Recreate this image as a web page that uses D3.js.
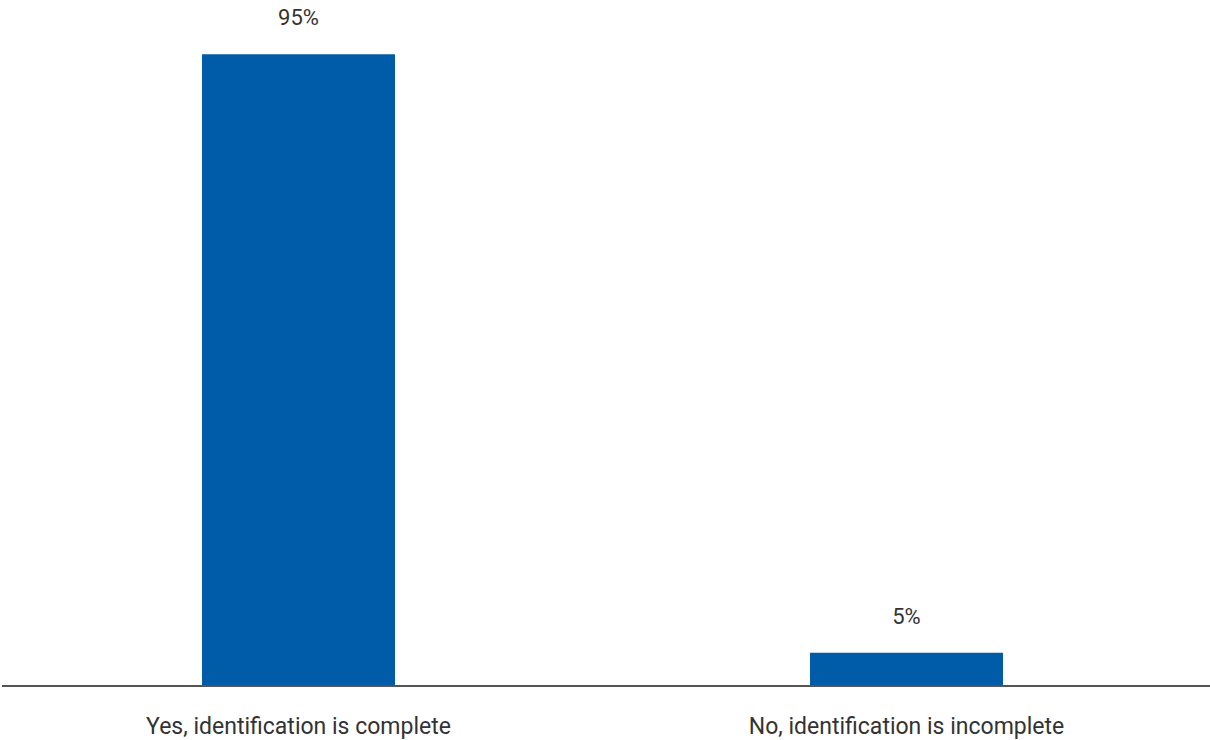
<!DOCTYPE html>
<html>
<head>
<meta charset="utf-8">
<script src="https://cdn.jsdelivr.net/npm/d3@7"></script>
<style>
  html, body { margin: 0; padding: 0; background: #fff; }
  svg { display: block; }
  text { font-family: Roboto, "Noto Sans", sans-serif; fill: #333; }
</style>
</head>
<body>
<svg id="chart" width="1210" height="740"></svg>
<script>
// Share of responses per answer
const categories = ["Yes, identification is complete", "No, identification is incomplete"];
const values = [95, 5];
const valueLabels = ["95%", "5%"];

const width = 1210, height = 740;
const baseline = 686;

const svg = d3.select("#chart");

const x = d3.scaleBand()
  .domain(categories)
  .range([-5.5, 1210.5])
  .paddingInner(0.6826)
  .paddingOuter(0.3413);

const y = d3.scaleLinear()
  .domain([0, 100])
  .range([baseline, baseline - 665]);

// bars
svg.append("g")
  .selectAll("rect")
  .data(categories)
  .join("rect")
  .attr("x", d => x(d))
  .attr("width", x.bandwidth())
  .attr("y", (d, i) => y(values[i]))
  .attr("height", (d, i) => y(0) - y(values[i]))
  .attr("fill", "#005ca8");

// value labels above bars
svg.append("g")
  .selectAll("text")
  .data(categories)
  .join("text")
  .attr("x", d => x(d) + x.bandwidth() / 2)
  .attr("y", (d, i) => y(values[i]) - 29)
  .attr("text-anchor", "middle")
  .style("font-size", "22px")
  .text((d, i) => valueLabels[i]);

// baseline axis with category labels
const axis = d3.axisBottom(x).tickSize(0).tickPadding(32);
const gx = svg.append("g")
  .attr("transform", `translate(0,${baseline})`)
  .call(axis);
gx.select(".domain")
  .attr("d", `M2,0H${width}`)
  .attr("stroke", "#555")
  .attr("stroke-width", 2);
gx.selectAll(".tick text")
  .style("font-size", "23px")
  .style("font-family", "Roboto, 'Noto Sans', sans-serif")
  .attr("fill", "#333");
</script>
</body>
</html>
